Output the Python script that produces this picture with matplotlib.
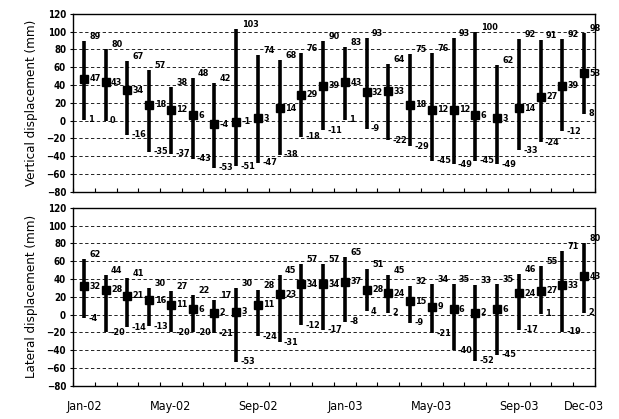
import numpy as np
import matplotlib.pyplot as plt

months = ["Jan-02", "Feb-02", "Mar-02", "Apr-02", "May-02", "Jun-02", "Jul-02", "Aug-02",
          "Sep-02", "Oct-02", "Nov-02", "Dec-02", "Jan-03", "Feb-03", "Mar-03", "Apr-03",
          "May-03", "Jun-03", "Jul-03", "Aug-03", "Sep-03", "Oct-03", "Nov-03", "Dec-03"]
shown_labels = ["Jan-02", "May-02", "Sep-02", "Jan-03", "May-03", "Sep-03", "Dec-03"]

vert_max = [89, 80, 67, 57, 38, 48, 42, 103, 74, 68, 76, 90,
            83, 93, 64, 75, 76, 93, 100, 62, 92, 91, 92, 98]
vert_mean = [47, 43, 34, 18, 12, 6, -4, -1, 3, 14, 29, 39,
             43, 32, 33, 18, 12, 12, 6, 3, 14, 27, 39, 53]
vert_min = [1, 0, -16, -35, -37, -43, -53, -51, -47, -38, -18, -11,
            1, -9, -22, -29, -45, -49, -45, -49, -33, -24, -12, 8]

lat_max = [62, 44, 41, 30, 27, 22, 17, 30, 28, 45, 57, 57,
           65, 51, 45, 32, 34, 35, 33, 35, 46, 55, 71, 80]
lat_mean = [32, 28, 21, 16, 11, 6, 2, 3, 11, 23, 34, 34,
            37, 28, 24, 15, 9, 6, 2, 6, 24, 27, 33, 43]
lat_min = [-4, -20, -14, -13, -20, -20, -21, -53, -24, -31, -12, -17,
           -8, 4, 2, -9, -21, -40, -52, -45, -17, 1, -19, 2]

fig = plt.figure(figsize=(6.19, 4.19), dpi=100)
ax1 = fig.add_axes([0.118, 0.542, 0.843, 0.425])
ax2 = fig.add_axes([0.118, 0.079, 0.843, 0.425])


def draw_panel(ax, vmax, vmean, vmin, ylabel, show_x):
    x = np.arange(len(months))
    ax.vlines(x, vmin, vmax, color="black", linewidth=2.6, zorder=3)
    ax.plot(x, vmean, linestyle="none", marker="s", markersize=6,
            color="black", zorder=4)
    for i in range(len(x)):
        ax.text(x[i] + 0.25, vmax[i], str(vmax[i]), fontsize=6.5, fontweight="bold",
                ha="left", va="bottom", fontstretch="condensed", zorder=5)
        ax.text(x[i] + 0.25, vmean[i], str(vmean[i]), fontsize=6.5, fontweight="bold",
                ha="left", va="center", fontstretch="condensed", zorder=5)
        ax.text(x[i] + 0.2, vmin[i], str(vmin[i]), fontsize=6.5, fontweight="bold",
                ha="left", va="center", fontstretch="condensed", zorder=5)

    ax.set_xlim(-0.5, len(months) - 0.5)
    ax.set_ylim(-80, 120)
    ax.set_yticks(np.arange(-80, 121, 20))
    for t in ax.get_yticklabels():
        t.set_fontweight("bold")
        t.set_fontsize(7)
        t.set_fontstretch("condensed")
    for yv in np.arange(-60, 101, 20):
        ax.axhline(yv, color="black", linewidth=0.6, linestyle=(0, (4, 3)), zorder=1)
    ax.set_ylabel(ylabel, fontsize=9.5, fontstretch="condensed", labelpad=6)

    ax.set_xticks(np.arange(-0.5, len(months), 1))
    ax.set_xticklabels([])
    ax.tick_params(axis="x", which="major", direction="in", length=3)
    ax.tick_params(axis="y", length=2, pad=3)
    pos = [months.index(m) for m in shown_labels]
    ax.set_xticks(pos, minor=True)
    if show_x:
        ax.set_xticklabels(shown_labels, minor=True, fontsize=9, fontstretch="condensed")
    else:
        ax.set_xticklabels([], minor=True)
    ax.tick_params(axis="x", which="minor", length=0, pad=10)
    for s in ax.spines.values():
        s.set_linewidth(1.0)


draw_panel(ax1, vert_max, vert_mean, vert_min, "Vertical displacement (mm)", False)
draw_panel(ax2, lat_max, lat_mean, lat_min, "Lateral displacement (mm)", True)

fig.savefig("out.png", dpi=100)
